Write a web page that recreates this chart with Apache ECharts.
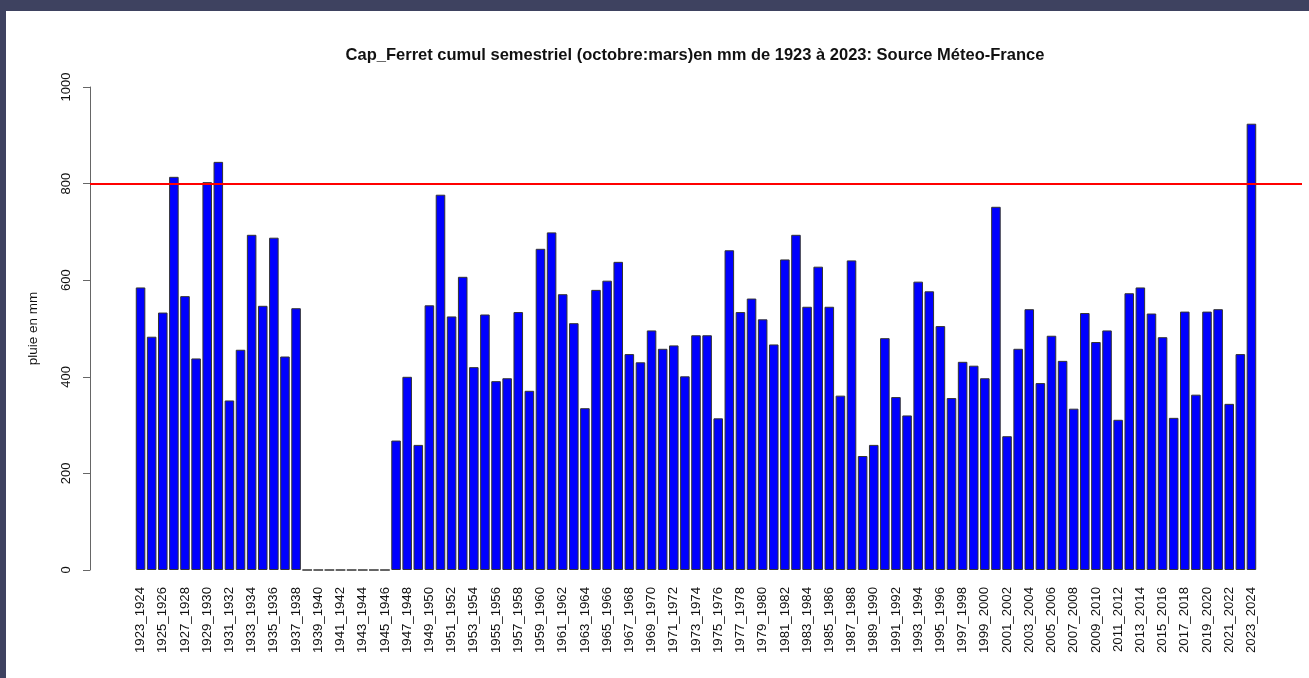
<!DOCTYPE html>
<html>
<head>
<meta charset="utf-8">
<script src="https://cdn.jsdelivr.net/npm/echarts@6/dist/echarts.min.js"></script>
<style>
  html, body { margin: 0; padding: 0; background: #3e4260; }
  #chart { position: absolute; left: 6px; top: 11px; width: 1303px; height: 667px; background: #ffffff; }
</style>
</head>
<body>
<div id="chart"></div>
<script>
// saisons 1923_1924 .. 2023_2024
const firstYear = 1923;
const lastYear = 2023;

// cumul oct-mars en mm
const rain1923 = [585, 483, 533, 814, 567, 438, 803, 845, 351, 456, 694, 547, 688, 442, 542];
// 1938_1939 .. 1945_1946 : pas de mesure (0)
const rainWar = [0, 0, 0, 0, 0, 0, 0, 0];
const rain1946 = [
    268, 400, 259, 548, 777, 525, 607, 420, 529, 391,
    397, 534, 371, 665, 699, 571, 511, 335, 580, 599,
    638, 447, 430, 496, 458, 465, 401, 486, 486, 314,
    662, 534, 562, 519, 467, 643, 694, 545, 628, 545,
    361, 641, 236, 259, 480, 358, 320, 597, 577, 505,
    356, 431, 423, 397, 752, 277, 458, 540, 387, 485,
    433, 334, 532, 472, 496, 311, 573, 585, 531, 482,
    315, 535, 363, 535, 540, 344, 447, 924
];
const threshold = 800;
const yTicks = [0, 200, 400, 600, 800, 1000];

const seasons = [];
for (let y = firstYear; y <= lastYear; y++) {
    seasons.push(y + '_' + (y + 1));
}
const rain = rain1923.concat(rainWar, rain1946);

const font = "'Liberation Sans', Arial, sans-serif";
const chart = echarts.init(document.getElementById('chart'));

let option = {
    animation: false,
    graphic: [{
        type: 'text',
        x: 689,
        y: 44,
        style: {
            text: 'Cap_Ferret cumul semestriel (octobre:mars)en mm de 1923 à 2023: Source Méteo-France',
            font: "bold 16.5px " + font,
            fill: '#111',
            textAlign: 'center',
            textVerticalAlign: 'middle'
        }
    }],
    grid: [
        // zone du trace (axe y + ligne rouge)
        { left: 84, right: 7, top: 76, bottom: 108 },
        // zone des barres
        { left: 129, right: 52, top: 76, bottom: 108 }
    ],
    xAxis: [
        { type: 'value', gridIndex: 0, min: 0, max: 1, show: false },
        {
            type: 'category',
            gridIndex: 1,
            data: seasons,
            axisLine: { show: false },
            axisTick: { show: false },
            axisLabel: {
                interval: 1,
                rotate: 90,
                margin: 17,
                fontSize: 13.2,
                fontFamily: font,
                color: '#111'
            }
        }
    ],
    yAxis: [
        {
            type: 'value',
            gridIndex: 0,
            min: yTicks[0],
            max: yTicks[yTicks.length - 1],
            interval: 200,
            name: 'pluie en mm',
            nameLocation: 'middle',
            nameGap: 50,
            nameRotate: 90,
            nameTextStyle: { fontSize: 13.5, fontFamily: font, color: '#111' },
            splitLine: { show: false },
            axisLine: { show: true, lineStyle: { color: '#666', width: 1 } },
            axisTick: { show: true, length: 7, lineStyle: { color: '#666' } },
            axisLabel: {
                rotate: 90,
                margin: 17,
                fontSize: 13,
                fontFamily: font,
                color: '#111',
                formatter: v => String(v)
            }
        },
        { type: 'value', gridIndex: 1, min: 0, max: 1000, show: false }
    ],
    series: [
        {
            type: 'line',
            xAxisIndex: 0,
            yAxisIndex: 0,
            data: [],
            silent: true,
            markLine: {
                silent: true,
                symbol: 'none',
                label: { show: false },
                lineStyle: { color: '#ff0000', width: 2, type: 'solid' },
                data: [{ yAxis: threshold }]
            }
        },
        {
            type: 'bar',
            xAxisIndex: 1,
            yAxisIndex: 1,
            data: rain,
            barCategoryGap: '14%',
            itemStyle: { color: '#0000ff', borderColor: '#333', borderWidth: 1 }
        }
    ]
};

chart.setOption(option);
</script>
</body>
</html>
